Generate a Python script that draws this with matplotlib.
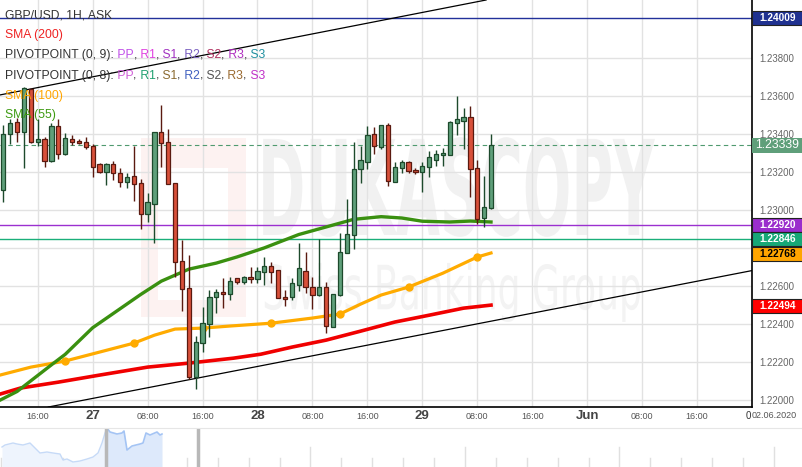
"""GBP/USD 1H candles with SMA and pivot lines, Dukascopy style."""

import matplotlib.pyplot as plt
import numpy as np
from matplotlib.font_manager import FontProperties
from matplotlib.patches import PathPatch, Rectangle
from matplotlib.textpath import TextPath
from matplotlib.transforms import Affine2D, IdentityTransform

plt.rcParams['font.family'] = ['Liberation Sans', 'DejaVu Sans']

# hours counted from 27 May 00:00, weekend removed
hours = list(range(-13, 59))
opens = [1.23104, 1.23397, 1.23460, 1.23407, 1.23635, 1.23358, 1.23371, 1.23258,
         1.23441, 1.23292, 1.23371, 1.23360, 1.23355, 1.23335, 1.23239, 1.23197,
         1.23239, 1.23195, 1.23144, 1.23179, 1.23139, 1.22976, 1.23029, 1.23407,
         1.23355, 1.23139, 1.22732, 1.22587, 1.22119, 1.22298, 1.22398, 1.22540,
         1.22566, 1.22555, 1.22640, 1.22622, 1.22648, 1.22637, 1.22674, 1.22704,
         1.22683, 1.22543, 1.22540, 1.22604, 1.22680, 1.22596, 1.22552, 1.22592,
         1.22385, 1.22552, 1.22774, 1.22866, 1.23213, 1.23250, 1.23399, 1.23332,
         1.23444, 1.23144, 1.23218, 1.23250, 1.23209, 1.23197, 1.23223, 1.23262,
         1.23286, 1.23290, 1.23455, 1.23469, 1.23486, 1.23218, 1.22955, 1.23008]
highs = [1.23446, 1.23476, 1.23481, 1.23644, 1.23640, 1.23476, 1.23381, 1.23458,
         1.23476, 1.23402, 1.23393, 1.23371, 1.23381, 1.23346, 1.23245, 1.23248,
         1.23258, 1.23218, 1.23195, 1.23335, 1.23162, 1.23087, 1.23410, 1.23551,
         1.23423, 1.23139, 1.22841, 1.22762, 1.22336, 1.22490, 1.22578, 1.22582,
         1.22640, 1.22648, 1.22640, 1.22651, 1.22697, 1.22697, 1.22753, 1.22727,
         1.22683, 1.22578, 1.22640, 1.22824, 1.22779, 1.22648, 1.22845, 1.22622,
         1.22560, 1.22879, 1.23055, 1.23358, 1.23335, 1.23441, 1.23434, 1.23448,
         1.23458, 1.23253, 1.23262, 1.23258, 1.23218, 1.23253, 1.23309, 1.23314,
         1.23323, 1.23465, 1.23598, 1.23534, 1.23546, 1.23262, 1.23178, 1.23399]
lows = [1.23043, 1.23346, 1.23358, 1.23218, 1.23350, 1.23335, 1.23227, 1.23253,
        1.23267, 1.23289, 1.23341, 1.23346, 1.23320, 1.23174, 1.23192, 1.23130,
        1.23157, 1.23121, 1.23113, 1.23048, 1.22897, 1.22937, 1.22824, 1.23227,
        1.23134, 1.22648, 1.22469, 1.22110, 1.22056, 1.22253, 1.22332, 1.22459,
        1.22485, 1.22525, 1.22610, 1.22610, 1.22616, 1.22613, 1.22604, 1.22613,
        1.22534, 1.22494, 1.22525, 1.22574, 1.22561, 1.22476, 1.22546, 1.22350,
        1.22382, 1.22547, 1.22771, 1.22792, 1.23139, 1.23214, 1.23294, 1.23318,
        1.23125, 1.23144, 1.23195, 1.23192, 1.23188, 1.23095, 1.23171, 1.23230,
        1.23230, 1.23290, 1.23393, 1.23320, 1.23066, 1.22925, 1.22911, 1.23005]
closes = [1.23397, 1.23455, 1.23407, 1.23639, 1.23358, 1.23371, 1.23258, 1.23441,
          1.23292, 1.23376, 1.23358, 1.23352, 1.23329, 1.23227, 1.23197, 1.23239,
          1.23192, 1.23144, 1.23174, 1.23136, 1.22976, 1.23039, 1.23407, 1.23350,
          1.23134, 1.22727, 1.22582, 1.22119, 1.22306, 1.22403, 1.22540, 1.22566,
          1.22555, 1.22627, 1.22622, 1.22648, 1.22637, 1.22680, 1.22704, 1.22674,
          1.22534, 1.22529, 1.22613, 1.22692, 1.22592, 1.22552, 1.22592, 1.22389,
          1.22555, 1.22779, 1.22871, 1.23213, 1.23262, 1.23393, 1.23335, 1.23444,
          1.23151, 1.23223, 1.23253, 1.23204, 1.23199, 1.23230, 1.23276, 1.23293,
          1.23300, 1.23460, 1.23476, 1.23486, 1.23213, 1.22950, 1.23013, 1.23339]

sma55_h = [-13.5, -11, -6, -4, 0, 4, 7, 10, 14, 18, 21, 25, 30, 34, 38, 42, 45, 48,
           52, 55, 58]
sma55 = [1.21999, 1.22045, 1.22185, 1.22240, 1.22380, 1.22480, 1.22555, 1.22625,
         1.22688, 1.22720, 1.22752, 1.22800, 1.22870, 1.22910, 1.22950, 1.22964,
         1.22957, 1.22940, 1.22936, 1.22941, 1.22936]
sma100_h = [-13.5, -9, -4, 1, 6, 9, 12, 16, 20, 24, 26, 32, 36, 39, 42, 46, 51, 56, 58]
sma100 = [1.22131, 1.22173, 1.22205, 1.22252, 1.22299, 1.22341, 1.22373, 1.22378,
          1.22389, 1.22399, 1.22404, 1.22431, 1.22452, 1.22504, 1.22552, 1.22594,
          1.22667, 1.22752, 1.22773]
sma100_dots = [2, 4, 7, 10, 12, 15, 17]
sma200_h = [-13.5, -10.5, -5, 1, 8, 14, 20.5, 24.5, 29, 34, 39, 44, 49, 54, 58]
sma200 = [1.22031, 1.22063, 1.22094, 1.22131, 1.22173, 1.22194, 1.22220, 1.22241,
          1.22278, 1.22315, 1.22362, 1.22410, 1.22446, 1.22483, 1.22499]

# trend lines, two anchor points each (hour, price)
upper_trend = [(-13.5, 1.23604), (24.5, 1.23872)]
lower_trend = [(-1.35, 1.21999), (59.5, 1.22425)]

tick_hours = [-8, 0, 8, 16, 24, 32, 40, 48, 56, 64, 72, 80, 88]
tick_labels = ['16:00', '27', '08:00', '16:00', '28', '08:00', '16:00', '29',
               '08:00', '16:00', 'Jun', '08:00', '16:00']
day_labels = ['27', '28', '29', 'Jun']
price_ticks = [1.220, 1.222, 1.224, 1.226, 1.228, 1.230, 1.232, 1.234, 1.236, 1.238]
price_tick_labels = ['1.22000', '1.22200', '1.22400', '1.22600', '',
                     '1.23000', '1.23200', '1.23400', '1.23600', '1.23800']

# price marks on the right axis: value, box colour, text colour
price_marks = [(1.24009, '#1f3190', 'white'),
               (1.22920, '#9a2dcc', 'white'),
               (1.22846, '#17a877', 'white'),
               (1.22768, '#ffa500', 'black'),
               (1.22494, '#ff0000', 'white')]
last_price = 1.23339

# navigator: mini overview series (position, level)
nav_t = [2, 5, 13, 17, 23, 30, 33, 40, 47, 53, 60, 63, 67, 73, 80, 87, 93, 98,
         102, 105, 107, 110, 117, 122, 124, 127, 132, 140, 143, 146, 150, 157,
         160, 162]
nav_level = [20, 22, 24, 23, 22, 24, 21, 14, 15, 14, 13, 7, 8, 5, 6, 8, 10, 14,
             24, 34, 39, 35, 33, 34, 36, 17, 21, 23, 24, 34, 32, 35, 32, 33]

W, H = 803, 467


def watermark(ax, text, box, color, weight):
    """Draw text stretched to fill a box given in axes fractions."""
    tp = TextPath((0, 0), text, size=1,
                  prop=FontProperties(family='DejaVu Sans', weight=weight))
    ext = tp.get_extents()
    x0, y0, x1, y1 = box
    tr = (Affine2D().translate(-ext.x0, -ext.y0)
          .scale((x1 - x0) / ext.width, (y1 - y0) / ext.height)
          .translate(x0, y0))
    ax.add_patch(PathPatch(tr.transform_path(tp), transform=ax.transAxes,
                           facecolor=color, lw=0, zorder=0.1))


def rich_line(fig, x, ytop, parts, size=8.7):
    """Write several coloured pieces one after another, in pixels."""
    renderer = fig.canvas.get_renderer()
    for s, c in parts:
        t = fig.text(x, H - ytop, s, color=c, fontsize=size, va='center',
                     transform=IdentityTransform(), zorder=10)
        x += t.get_window_extent(renderer).width


fig = plt.figure(figsize=(W / 100, H / 100), dpi=100)
ax = fig.add_axes([0, 1 - 407 / H, 752 / W, 407 / H])
ax.set_xlim(-13.49, 96)
ax.set_ylim(1.219633, 1.241032)
ax.set_axisbelow(True)

# watermark
ax.add_patch(Rectangle((141 / 752, 1 - 317 / 407), 105 / 752, 179 / 407,
                       transform=ax.transAxes, fc='#fdf2f1', lw=0, zorder=0.1))
ax.add_patch(Rectangle((158 / 752, 1 - 300 / 407), 70 / 752, 132 / 407,
                       transform=ax.transAxes, fc='white', lw=0, zorder=0.1))
watermark(ax, 'DUKASCOPY', (0.350, 0.418, 0.871, 0.663), '#f1f1f1', 'bold')
watermark(ax, 'Swiss Banking Group', (0.352, 0.209, 0.851, 0.354), '#f3f3f3',
          'normal')

# grid and frame
ax.set_xticks(tick_hours, tick_labels)
ax.set_yticks(price_ticks, price_tick_labels)
ax.yaxis.tick_right()
ax.grid(True, color='#e2e2e2', lw=1)
ax.tick_params(axis='y', length=0, pad=5, labelsize=7, labelcolor='#666666')
ax.tick_params(axis='x', length=0, pad=6.5, labelsize=6.5, labelcolor='#555555')
for lab in ax.get_xticklabels():
    lab.set_va('center')
    if lab.get_text() in day_labels:
        lab.set_fontsize(9.5)
        lab.set_fontweight('bold')
        lab.set_color('#444444')
for side in ['top', 'left']:
    ax.spines[side].set_visible(False)
for side in ['right', 'bottom']:
    ax.spines[side].set_linewidth(1.2)
    ax.spines[side].set_color('black')

# horizontal levels
ax.axhline(1.24009, color='#22319a', lw=1, zorder=1.5)
ax.axhline(1.22920, color='#9b30d0', lw=1, zorder=1.5)
ax.axhline(1.22846, color='#1aaf7a', lw=1, zorder=1.5)
ax.axhline(last_price, color='#4f9a6f', lw=0.8, ls=(0, (4, 3)), zorder=1.5)

# trend lines
ax.axline(upper_trend[0], upper_trend[1], color='black', lw=0.9, zorder=2.5)
ax.axline(lower_trend[0], lower_trend[1], color='black', lw=0.9, zorder=2.5)

# moving averages
ax.plot(sma200_h, sma200, color='#f00000', lw=2.6, zorder=2)
ax.plot(sma100_h, sma100, color='#ffab00', lw=2.3, zorder=2,
        marker='o', markersize=5, markevery=sma100_dots)
ax.plot(sma55_h, sma55, color='#3a9010', lw=2.4, zorder=2)

# candles
o = np.array(opens)
c = np.array(closes)
up = c >= o
body_fc = np.where(up, '#5f9f7a', '#d8503a')
body_ec = np.where(up, '#1d4a2c', '#5a1a10')
ax.vlines(hours, lows, highs, colors=body_ec, lw=1, zorder=2.9)
ax.bar(hours, np.maximum(np.abs(c - o), 0.00003), bottom=np.minimum(o, c),
       width=0.62, color=body_fc, edgecolor=body_ec, lw=0.9, zorder=3)

# right axis price boxes
ytr = ax.get_yaxis_transform()
bw = 51 / 752
for val, fc, tc in price_marks:
    ax.add_patch(Rectangle((1.0, val - 0.00035), bw, 0.0007, transform=ytr,
                           fc=fc, ec='#222222', lw=0.8, clip_on=False, zorder=5))
    ax.text(1.0 + bw / 2, val, '%.5f' % val, transform=ytr, ha='center',
            va='center', color=tc, fontsize=7.3, fontweight='bold', zorder=6)
ax.add_patch(Rectangle((1.0, last_price - 0.00039), bw, 0.00078, transform=ytr,
                       fc='#5f9f7a', lw=0, clip_on=False, zorder=5))
ax.text(1.0 + bw / 2, last_price, '%.5f' % last_price, transform=ytr,
        ha='center', va='center', color='white', fontsize=8.8, zorder=6)

# end of time axis
fig.text(751, H - 416, '0', color='#333333', fontsize=7, ha='right',
         va='center', transform=IdentityTransform())
fig.text(752, H - 416, '02.06.2020', color='#555555', fontsize=6.5,
         va='center', transform=IdentityTransform())

# legend lines
dark = '#333333'
rich_line(fig, 5, 15, [('GBP/USD, 1H, ASK', dark)])
rich_line(fig, 5, 35, [('SMA (200)', '#ee2222')])
rich_line(fig, 5, 55, [('PIVOTPOINT (0, 9):', dark), (' PP', '#c050e8'),
                       (',', dark), (' R1', '#e040e0'), (',', dark),
                       (' S1', '#a030c0'), (',', dark), (' R2', '#7a60c0'),
                       (',', dark), (' S2', '#b03060'), (',', dark),
                       (' R3', '#b030c0'), (',', dark), (' S3', '#2090a0')])
rich_line(fig, 5, 76, [('PIVOTPOINT (0, 8):', dark), (' PP', '#d060d8'),
                       (',', dark), (' R1', '#20a070'), (',', dark),
                       (' S1', '#8a6a30'), (',', dark), (' R2', '#4060c0'),
                       (',', dark), (' S2', '#555555'), (',', dark),
                       (' R3', '#9a6a30'), (',', dark), (' S3', '#c030c8')])
rich_line(fig, 5, 96, [('SMA (100)', '#ffa500')])
rich_line(fig, 5, 115, [('SMA (55)', '#3c9a10')])

# navigator
nav = fig.add_axes([0, 0, 1, 39 / H])
nav.set_xlim(0, W)
nav.set_ylim(0, 39)
nav.set_xticks([])
nav.set_yticks([])
for side in ['left', 'right', 'bottom']:
    nav.spines[side].set_visible(False)
nav.spines['top'].set_color('#e6e6e6')
nt = np.array(nav_t)
nl = np.array(nav_level)
old = nt <= 107
sel = nt >= 107
nav.fill_between(nt[old], nl[old], color='#eef4fd', lw=0)
nav.plot(nt[old], nl[old], color='#c6daf7', lw=1)
nav.fill_between(nt[sel], nl[sel], color='#dde9fb', lw=0)
nav.plot(nt[sel], nl[sel], color='#a4c4f4', lw=1.2)
for k, x in enumerate(np.arange(1.5, W, 30.9)):
    nav.plot([x, x], [0, 20 if k % 5 == 0 and k else 9], color='#e0e0e0',
             lw=1, zorder=0.5)
for x in [106.5, 198.5]:
    nav.axvline(x, color='#b8b8b8', lw=2.5)

fig.savefig('out.png', dpi=100)
